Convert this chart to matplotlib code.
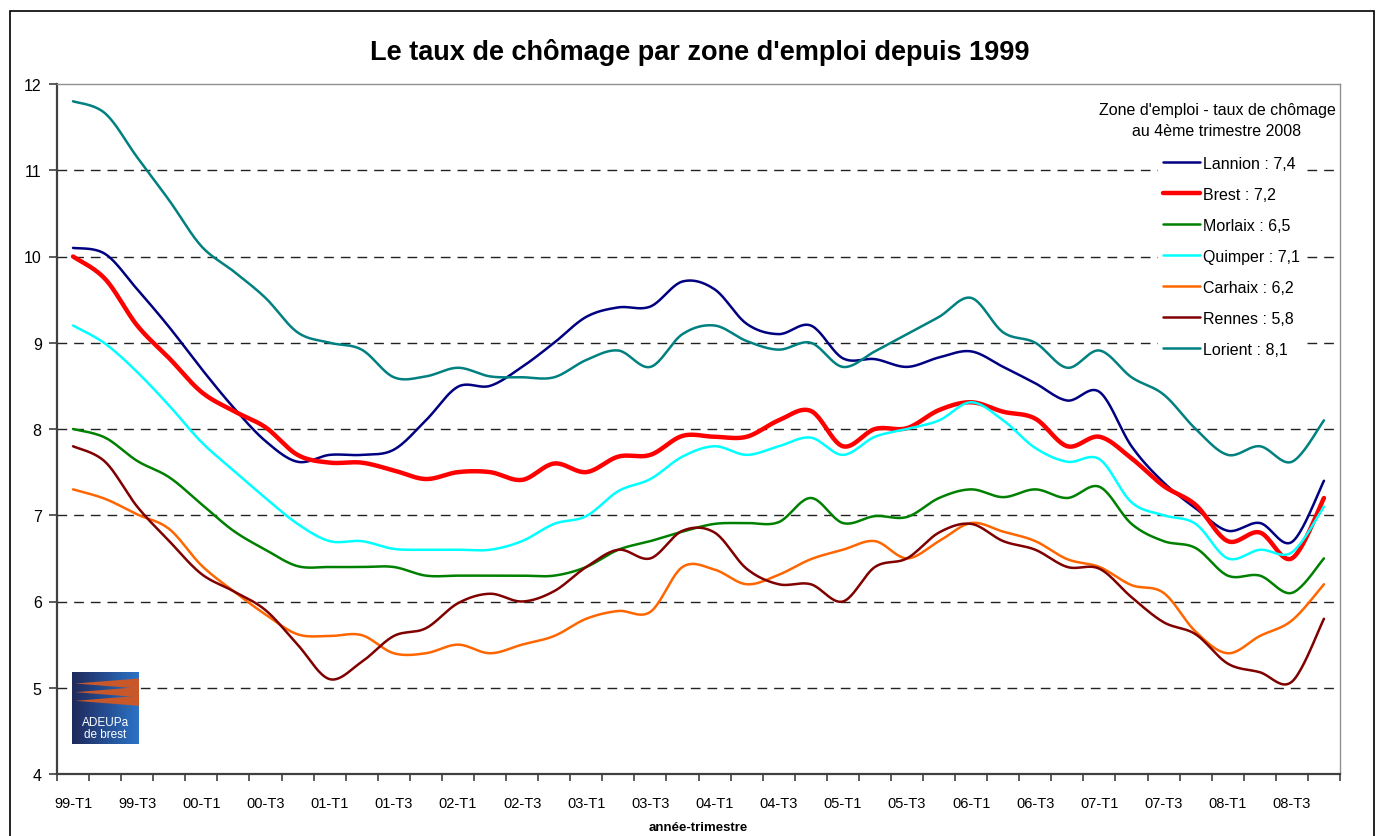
import numpy as np
import matplotlib
matplotlib.use("Agg")
import matplotlib.pyplot as plt
from matplotlib.patches import Rectangle, Polygon

plt.rcParams['font.family'] = ['Liberation Sans', 'DejaVu Sans']

# ---------------- data ----------------
quarters = [f"{y:02d}-T{q}" for y in list(range(99, 100)) + list(range(0, 9)) for q in (1, 2, 3, 4)]
tick_labels = quarters[::2]

lannion = [10.1, 10.03, 9.62, 9.18, 8.70, 8.25, 7.86, 7.62, 7.70, 7.70,
           7.76, 8.10, 8.49, 8.50, 8.72, 9.00, 9.30, 9.41, 9.42, 9.71,
           9.62, 9.22, 9.10, 9.20, 8.82, 8.81, 8.72, 8.83, 8.90, 8.72,
           8.53, 8.33, 8.43, 7.80, 7.38, 7.08, 6.82, 6.91, 6.69, 7.40]
brest = [10.0, 9.74, 9.20, 8.82, 8.43, 8.21, 8.02, 7.70, 7.61, 7.61,
         7.52, 7.42, 7.50, 7.50, 7.41, 7.60, 7.50, 7.68, 7.70, 7.92,
         7.91, 7.91, 8.10, 8.21, 7.80, 8.00, 8.01, 8.22, 8.31, 8.20,
         8.12, 7.80, 7.91, 7.66, 7.34, 7.12, 6.70, 6.80, 6.50, 7.20]
morlaix = [8.0, 7.90, 7.63, 7.44, 7.13, 6.82, 6.60, 6.41, 6.40, 6.40,
           6.40, 6.30, 6.30, 6.30, 6.30, 6.30, 6.40, 6.60, 6.70, 6.81,
           6.90, 6.91, 6.92, 7.20, 6.91, 6.99, 6.98, 7.20, 7.30, 7.21,
           7.30, 7.20, 7.33, 6.90, 6.70, 6.62, 6.30, 6.30, 6.10, 6.50]
quimper = [9.2, 8.99, 8.66, 8.27, 7.85, 7.52, 7.20, 6.90, 6.70, 6.70,
           6.61, 6.60, 6.60, 6.60, 6.70, 6.90, 6.99, 7.28, 7.42, 7.68,
           7.80, 7.70, 7.80, 7.90, 7.70, 7.91, 8.00, 8.10, 8.31, 8.10,
           7.78, 7.62, 7.65, 7.15, 7.00, 6.90, 6.50, 6.60, 6.57, 7.10]
carhaix = [7.3, 7.19, 7.01, 6.84, 6.42, 6.12, 5.85, 5.62, 5.60, 5.61,
           5.40, 5.40, 5.50, 5.40, 5.50, 5.60, 5.80, 5.89, 5.88, 6.40,
           6.37, 6.20, 6.31, 6.49, 6.60, 6.70, 6.50, 6.70, 6.91, 6.81,
           6.70, 6.49, 6.40, 6.19, 6.10, 5.65, 5.40, 5.60, 5.78, 6.20]
rennes = [7.8, 7.62, 7.10, 6.70, 6.32, 6.12, 5.90, 5.50, 5.10, 5.30,
          5.60, 5.69, 5.98, 6.09, 6.00, 6.12, 6.40, 6.60, 6.50, 6.82,
          6.80, 6.38, 6.20, 6.20, 6.00, 6.40, 6.50, 6.80, 6.90, 6.70,
          6.60, 6.40, 6.38, 6.05, 5.76, 5.62, 5.28, 5.18, 5.07, 5.80]
lorient = [11.8, 11.66, 11.15, 10.65, 10.12, 9.83, 9.52, 9.12, 9.00, 8.92,
           8.60, 8.61, 8.71, 8.61, 8.60, 8.60, 8.80, 8.91, 8.72, 9.10,
           9.20, 9.02, 8.92, 9.00, 8.72, 8.90, 9.10, 9.30, 9.52, 9.12,
           9.00, 8.71, 8.91, 8.60, 8.40, 8.00, 7.70, 7.80, 7.62, 8.10]

series_names = ["Lannion : 7,4", "Brest : 7,2", "Morlaix : 6,5", "Quimper : 7,1",
                "Carhaix : 6,2", "Rennes : 5,8", "Lorient : 8,1"]
series_values = [lannion, brest, morlaix, quimper, carhaix, rennes, lorient]
series_colors = ["#000080", "#FF0000", "#008000", "#00FFFF", "#FF6600", "#800000", "#008080"]
series_widths = [1.8, 3.2, 1.8, 1.8, 1.8, 1.8, 1.8]


def excel_smooth(yvals, n=24):
    y = np.asarray(yvals, dtype=float)
    x = np.arange(len(y), dtype=float)
    P = np.column_stack([x, y])
    out = [P[0]]
    for i in range(len(P) - 1):
        p0 = P[i - 1] if i > 0 else P[i]
        p1 = P[i]
        p2 = P[i + 1]
        p3 = P[i + 2] if i + 2 < len(P) else P[i + 1]
        c1 = p1 + (p2 - p0) / 6.0
        c2 = p2 - (p3 - p1) / 6.0
        t = np.linspace(0, 1, n)[1:, None]
        seg = ((1 - t) ** 3) * p1 + 3 * ((1 - t) ** 2) * t * c1 + 3 * (1 - t) * t ** 2 * c2 + t ** 3 * p2
        out.extend(seg)
    out = np.array(out)
    return out[:, 0], out[:, 1]


W, H = 1377, 837
fig = plt.figure(figsize=(W / 100, H / 100), dpi=100)
fig.patch.set_facecolor("white")

# outer border
fig.add_artist(Rectangle((10 / W, -0.01), 1364 / W, 1 - 12 / H + 0.01,
                         transform=fig.transFigure, fill=False, edgecolor="black", lw=1.2))

ax = fig.add_axes([57 / W, 1 - 775 / H, (1340 - 57) / W, (775 - 85) / H])
ax.set_facecolor("white")

for v in range(5, 12):
    ax.axhline(v, color="#222222", lw=1.0, dashes=(7, 5), zorder=1)

for name, vals, col, lw in zip(series_names, series_values, series_colors, series_widths):
    xs, ys = excel_smooth(vals)
    ax.plot(xs, ys, color=col, lw=lw, label=name, solid_capstyle="round", zorder=3)

ax.set_xlim(-0.5, len(quarters) - 0.5)
ax.set_ylim(4, 12)
ax.set_yticks(range(4, 13))
ax.set_yticklabels([str(v) for v in range(4, 13)], fontsize=11.5)
ax.set_xticks(np.arange(-0.5, len(quarters), 1.0))
ax.set_xticklabels([])
ax.set_xticks(np.arange(0, len(quarters), 2), minor=True)
ax.set_xticklabels(tick_labels, minor=True, fontsize=10.5)
ax.tick_params(axis="x", which="major", direction="out", length=5, width=1.2, color="#404040")
ax.tick_params(axis="x", which="minor", length=0, pad=16)
ax.tick_params(axis="y", direction="out", length=6, width=1.2, color="#404040", pad=5)

for s in ("left", "bottom"):
    ax.spines[s].set_color("#404040")
    ax.spines[s].set_linewidth(1.6)
for s in ("top", "right"):
    ax.spines[s].set_color("#909090")
    ax.spines[s].set_linewidth(1.0)

ax.set_xlabel("année-trimestre", fontsize=9.5, fontweight="bold", labelpad=8)

fig.text(700 / W, 1 - 53 / H, "Le taux de chômage par zone d'emploi depuis 1999",
         ha="center", va="center", fontsize=19.5, fontweight="bold")

# legend title (separate text, like the original text box)
fig.text(1217 / W, 1 - 110 / H, "Zone d'emploi - taux de chômage", ha="center", va="center", fontsize=11.5)
fig.text(1217 / W, 1 - 131 / H, "au 4ème trimestre 2008", ha="center", va="center", fontsize=11.5)

leg = ax.legend(loc="upper left", bbox_to_anchor=(1158 / W, 1 - 152 / H),
                bbox_transform=fig.transFigure, frameon=True, fancybox=False,
                facecolor="white", edgecolor="none", framealpha=1.0,
                fontsize=11.5, handlelength=2.3, handletextpad=0.2,
                labelspacing=1.0, borderpad=0.3, borderaxespad=0)
leg.set_zorder(5)

# ADEUPa logo
lax = fig.add_axes([72 / W, 1 - 745 / H, 67 / W, 72 / H])
grad = np.linspace(0, 1, 200)[None, :]
c0 = np.array([0.12, 0.16, 0.36])
c1 = np.array([0.17, 0.45, 0.78])
img = c0[None, None, :] * (1 - grad[..., None]) + c1[None, None, :] * grad[..., None]
img = np.repeat(img, 10, axis=0)
lax.imshow(img, extent=(0, 1, 0, 1), aspect="auto")
for yc in (0.84, 0.72, 0.6):
    lax.add_patch(Polygon([(0.05, yc), (1.0, yc + 0.07), (1.0, yc - 0.07)],
                          closed=True, facecolor="#c8582a", edgecolor="none"))
lax.text(0.5, 0.3, "ADEUPa", color="white", ha="center", va="center", fontsize=8.5)
lax.text(0.5, 0.14, "de brest", color="white", ha="center", va="center", fontsize=8.5)
lax.set_xlim(0, 1)
lax.set_ylim(0, 1)
lax.axis("off")

fig.savefig("out.png", dpi=100, facecolor="white")
